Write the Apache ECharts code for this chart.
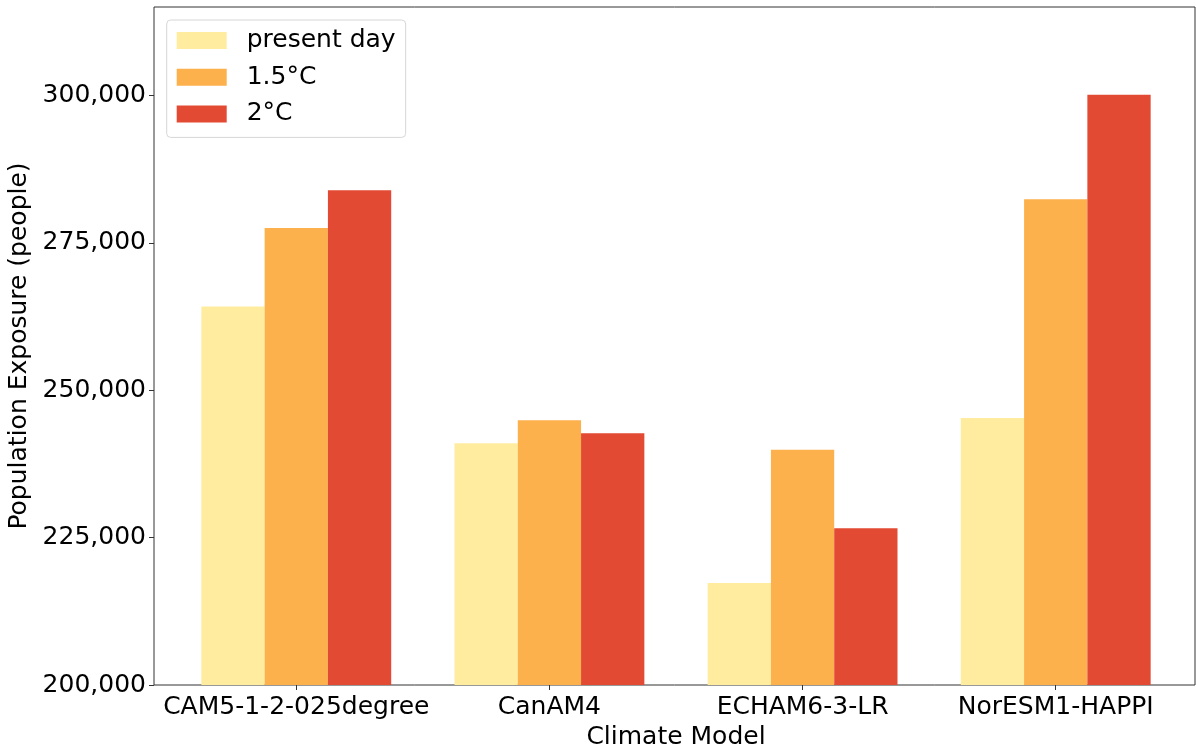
<!DOCTYPE html>
<html>
<head>
<meta charset="utf-8">
<script src="https://cdn.jsdelivr.net/npm/echarts@6/dist/echarts.min.js"></script>
<style>
  html, body { margin: 0; padding: 0; background: #fff; }
  #chart { width: 1196px; height: 751px; }
</style>
</head>
<body>
<div id="chart"></div>
<script>
var models = ['CAM5-1-2-025degree', 'CanAM4', 'ECHAM6-3-LR', 'NorESM1-HAPPI'];
var presentDay = [264200, 241000, 217300, 245300];
var warm15 = [277500, 244900, 239900, 282400];
var warm20 = [283900, 242700, 226600, 300100];
var yTicks = [200000, 225000, 250000, 275000, 300000];
var yMin = 200000, yMax = 315000;

var colors = ['#FFEC9F', '#FDB14D', '#E34A33'];
var font = 'DejaVu Sans';

var chart = echarts.init(document.getElementById('chart'));

function fmt(v) { return Number(v).toLocaleString('en-US'); }

var option = {
    animation: false,
    color: colors,
    textStyle: { fontFamily: font },
    grid: [
        // frame + y axis
        { left: 154, right: 1, top: 7, bottom: 66, show: true, borderColor: '#333', borderWidth: 1, backgroundColor: 'transparent', outerBoundsMode: 'none', containLabel: false },
        // bars
        { left: 169.7, right: 13.7, top: 7, bottom: 66, outerBoundsMode: 'none', containLabel: false }
    ],
    legend: {
        orient: 'vertical',
        left: 166.7,
        top: 20,
        padding: [8, 10, 11, 10],
        itemWidth: 50,
        itemHeight: 17,
        itemGap: 11.7,
        icon: 'rect',
        borderColor: '#d6d6d6',
        borderWidth: 1,
        borderRadius: 4,
        backgroundColor: 'rgba(255,255,255,0.8)',
        textStyle: { fontSize: 25, lineHeight: 25, color: '#000', fontFamily: font, padding: [0, 0, 0, 15] },
        data: ['present day', '1.5°C', '2°C']
    },
    xAxis: [
        { gridIndex: 0, type: 'value', min: 0, max: 1, show: false },
        {
            gridIndex: 1,
            type: 'category',
            data: models,
            name: 'Climate Model',
            nameLocation: 'middle',
            nameGap: 35,
            nameTextStyle: { fontSize: 25, color: '#000', fontFamily: font },
            axisLine: { show: false },
            axisTick: { show: true, alignWithLabel: true, length: 5, lineStyle: { color: '#333' } },
            axisLabel: { fontSize: 25, color: '#000', margin: 10, fontFamily: font, interval: 0 }
        }
    ],
    yAxis: [
        {
            gridIndex: 0,
            type: 'value',
            min: yMin,
            max: yMax,
            name: 'Population Exposure (people)',
            nameLocation: 'middle',
            nameGap: 112,
            nameTextStyle: { fontSize: 25, color: '#000', fontFamily: font },
            splitLine: { show: false },
            axisLine: { show: false },
            axisTick: { show: true, length: 5, lineStyle: { color: '#333' }, customValues: yTicks },
            axisLabel: { fontSize: 25, color: '#000', margin: 8, fontFamily: font, customValues: yTicks, formatter: fmt }
        },
        { gridIndex: 1, type: 'value', min: yMin, max: yMax, show: false, splitLine: { show: false } }
    ],
    series: [
        { name: 'present day', type: 'bar', xAxisIndex: 1, yAxisIndex: 1, data: presentDay, barWidth: '25%', barGap: '0%' },
        { name: '1.5°C', type: 'bar', xAxisIndex: 1, yAxisIndex: 1, data: warm15, barWidth: '25%', barGap: '0%' },
        { name: '2°C', type: 'bar', xAxisIndex: 1, yAxisIndex: 1, data: warm20, barWidth: '25%', barGap: '0%' }
    ]
};

chart.setOption(option);
</script>
</body>
</html>
